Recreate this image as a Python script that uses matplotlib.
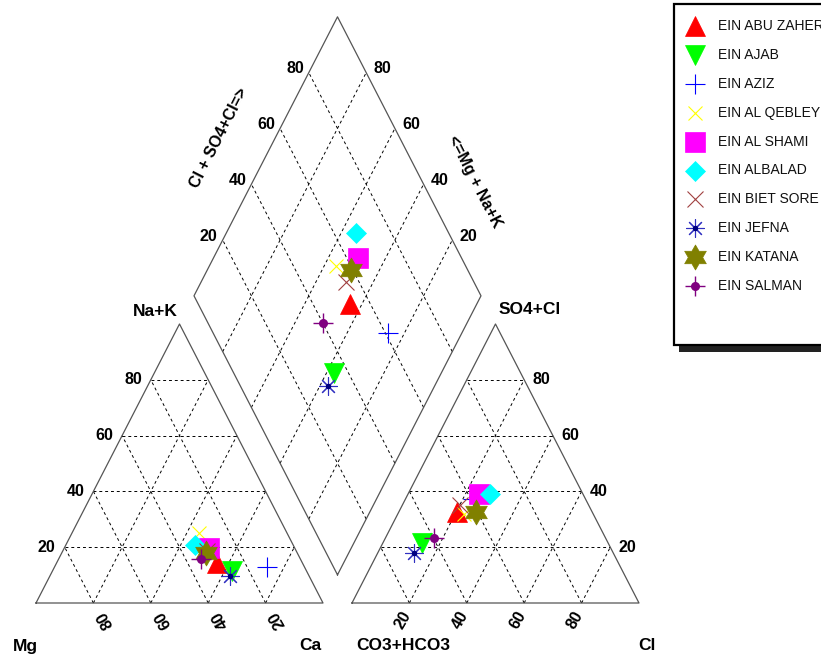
import numpy as np
import matplotlib
matplotlib.use("Agg")
import matplotlib.pyplot as plt
from matplotlib.path import Path
from matplotlib.patches import Rectangle

plt.rcParams['font.family'] = ['Liberation Sans', 'DejaVu Sans']

# ---------------------------------
# Data (percent of meq)
# ---------------------------------
samples = ["EIN ABU ZAHER", "EIN AJAB", "EIN AZIZ", "EIN AL QEBLEY", "EIN AL SHAMI",
           "EIN ALBALAD", "EIN BIET SORE", "EIN JEFNA", "EIN KATANA", "EIN SALMAN"]
# cations: Ca (right corner), Na+K (top), Mg = rest
ca = [56.0, 62.6, 74.1, 44.3, 50.5, 45.0, 50.4, 62.8, 50.1, 49.8]
nak = [14.2, 11.5, 13.0, 25.0, 19.6, 20.8, 18.5, 9.7, 18.0, 15.7]
# anions: Cl (right corner), SO4 (top), CO3+HCO3 = rest
cl = [20.5, 13.5, 23.5, 23.0, 24.8, 28.4, 20.1, 12.4, 26.8, 16.8]
so4 = [32.5, 21.5, 37.3, 32.0, 39.2, 39.2, 35.3, 18.1, 32.5, 23.3]

grid_vals = [20, 40, 60, 80]

# ---------------------------------
# Geometry
# ---------------------------------
h = np.sqrt(3) / 2
g = 0.101          # gap between triangles
SX = 287.0         # pixels per unit, x
SY = 279.0 / h     # pixels per unit, y

hexagram = []
for k in range(12):
    r = 1.0 if k % 2 == 0 else 1 / np.sqrt(3)
    a = np.pi / 2 + k * np.pi / 6
    hexagram.append((r * np.cos(a), r * np.sin(a)))
hexagram.append(hexagram[0])
star6 = Path(hexagram, closed=True)

styles = [
    dict(marker='^', color='#ff0000', ms=15),
    dict(marker='v', color='#00ff00', ms=15),
    dict(marker='+', color='#0000ff', ms=14, mew=0.8),
    dict(marker='x', color='#ffff00', ms=10.5, mew=0.8),
    dict(marker='s', color='#ff00ff', ms=14),
    dict(marker='D', color='#00ffff', ms=10.5),
    dict(marker='x', color='#a04040', ms=11.5, mew=0.8),
    dict(marker=(8, 2, 0), color='#3030c0', ms=13, mew=0.8),
    dict(marker=star6, color='#808000', ms=18),
    dict(marker='+', color='#800080', ms=14, mew=1.0),
]
# small center dots
dots = {7: dict(color='#000080', ms=4), 9: dict(color='#800080', ms=6.5)}


def cat_xy(c, n):
    return c / 100 + n / 200, h * n / 100


def an_xy(r, t):
    return 1 + g + r / 100 + t / 200, h * t / 100


def diamond_xy(pc, pa):
    s = ((pa[1] - pc[1]) / h + 2 * (pa[0] - pc[0])) / 2
    return pc[0] + 0.5 * s, pc[1] + h * s


fig = plt.figure(figsize=(8.21, 6.61), dpi=100)
ax = fig.add_axes([0, 0, 1, 1])
ax.set_xlim(-36 / SX, (821 - 36) / SX)
ax.set_ylim((603 - 661) / SY, 603 / SY)
ax.axis("off")

edge = dict(color='#555555', lw=0.9, zorder=2)
grid = dict(color='black', lw=0.7, ls=(0, (3, 3)), zorder=1)

# triangles
for off in [0, 1 + g]:
    ax.plot([off, off + 1, off + 0.5, off], [0, 0, h, 0], **edge)
    for v in grid_vals:
        f = v / 100
        ax.plot([off + f / 2, off + 1 - f / 2], [f * h, f * h], **grid)
        ax.plot([off + f, off + f + (1 - f) / 2], [0, (1 - f) * h], **grid)
        ax.plot([off + 1 - f, off + (1 - f) / 2], [0, (1 - f) * h], **grid)

# diamond
B = np.array([1 + g / 2, g * h])
L = np.array([0.5 + g / 2, (1 + g) * h])
T = np.array([1 + g / 2, (2 + g) * h])
R = np.array([1.5 + g / 2, (1 + g) * h])
ax.plot([B[0], L[0], T[0], R[0], B[0]], [B[1], L[1], T[1], R[1], B[1]], **edge)
for v in grid_vals:
    f = v / 100
    p0, p1 = B + f * (R - B), L + f * (R - B)
    ax.plot([p0[0], p1[0]], [p0[1], p1[1]], **grid)
    p0, p1 = B + f * (L - B), R + f * (L - B)
    ax.plot([p0[0], p1[0]], [p0[1], p1[1]], **grid)

# tick labels
tk = dict(fontsize=11.5, fontweight='bold', textcoords='offset pixels')
for v in grid_vals:
    f = v / 100
    ax.annotate(str(v), (f / 2, f * h), xytext=(-9, 0), ha='right', va='center', **tk)
    ax.annotate(str(v), (1 + g + 1 - f / 2, f * h), xytext=(8, 0), ha='left', va='center', **tk)
    ax.annotate(str(100 - v), (f, 0), xytext=(12, -17), ha='center', va='center',
                rotation=120, **tk)
    ax.annotate(str(v), (1 + g + f, 0), xytext=(-6.5, -17), ha='center', va='center',
                rotation=60, **tk)
    p = L + f * (T - L)
    ax.annotate(str(v), p, xytext=(-5, 4), ha='right', va='center', **tk)
    p = T + (1 - f) * (R - T)
    ax.annotate(str(v), p, xytext=(7, 4), ha='left', va='center', **tk)

# axis titles
tt = dict(fontsize=12.5, fontweight='bold', textcoords='offset pixels',
          ha='center', va='center')
ax.annotate("Na+K", (0.5, h), xytext=(-24.5, 13), **tt)
ax.annotate("SO4+Cl", (1.5 + g, h), xytext=(34, 15), **tt)
ax.annotate("Mg", (0, 0), xytext=(-11, -43.5), **tt)
ax.annotate("Ca", (1, 0), xytext=(-13, -42), **tt)
ax.annotate("CO3+HCO3", (1 + g, 0), xytext=(51, -42), **tt)
ax.annotate("Cl", (2 + g, 0), xytext=(8, -42), **tt)
dt = dict(fontsize=11.5, fontweight='bold', textcoords='offset pixels',
          ha='center', va='center', rotation_mode='anchor')
ax.annotate("Cl + SO4+Cl=>", (L + T) / 2, xytext=(-46.7, 18), rotation=63, **dt)
ax.annotate("<=Mg + Na+K", (T + R) / 2, xytext=(65, -25), rotation=-63, **dt)

# samples
for i in range(len(samples)):
    pc = cat_xy(ca[i], nak[i])
    pa = an_xy(cl[i], so4[i])
    pd = diamond_xy(pc, pa)
    st = styles[i]
    kw = dict(marker=st['marker'], ms=st['ms'], color=st['color'],
              mew=st.get('mew', 0.5), ls='none', zorder=5 + i)
    ax.plot([pc[0], pa[0], pd[0]], [pc[1], pa[1], pd[1]], **kw)
    if i in dots:
        ax.plot([pc[0], pa[0], pd[0]], [pc[1], pa[1], pd[1]], 'o',
                ms=dots[i]['ms'], color=dots[i]['color'], mew=0, zorder=5 + i)

# ---------------------------------
# Legend box (pixel coords)
# ---------------------------------
lax = fig.add_axes([0, 0, 1, 1])
lax.set_xlim(0, 821)
lax.set_ylim(661, 0)
lax.axis("off")
lax.add_patch(Rectangle((679, 10), 200, 342, facecolor='#222222', edgecolor='none', zorder=1))
lax.add_patch(Rectangle((673.5, 4), 200, 341, facecolor='white', edgecolor='black',
                        lw=1.6, zorder=2))
for i, name in enumerate(samples):
    y = 26 + i * 28.9
    st = styles[i]
    lax.plot([695], [y], marker=st['marker'], ms=st['ms'], color=st['color'],
             mew=st.get('mew', 0.5), ls='none', zorder=3)
    if i in dots:
        lax.plot([695], [y], 'o', ms=dots[i]['ms'], color=dots[i]['color'], mew=0, zorder=4)
    lax.text(717.5, y, name, fontsize=10, va='center', ha='left', color='#111111', zorder=4)

fig.savefig("out.png", dpi=100)
